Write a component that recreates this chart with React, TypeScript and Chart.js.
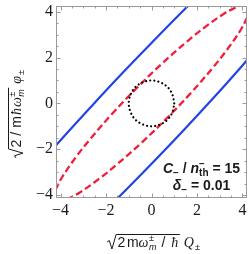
import React, { useEffect, useRef } from "react";
import { Chart, registerables } from "chart.js";

Chart.register(...registerables);

// ---------- axes ----------
const X_MIN = -4.2;
const X_MAX = 4.2;
const Y_MIN = -4.13;
const Y_MAX = 4.25;
const majorTicks = [-4, -2, 0, 2, 4];
const tickLabels = ["−4", "−2", "0", "2", "4"];

// ---------- curves ----------
const blueUpperX = [-5.35, -4.03, -2.69, -1.33, 0.06, 1.47, 2.91];
const blueUpperY = [-3.15, -1.64, -0.18, 1.27, 2.70, 4.12, 5.51];
const blueLowerX = [-2.91, -1.47, -0.06, 1.33, 2.69, 4.03, 5.35];
const blueLowerY = [-5.51, -4.12, -2.70, -1.26, 0.20, 1.69, 3.20];

const redX = [
  -4.24, -4.27, -4.15, -3.9, -3.32, -2.69, -1.7, -0.66, 0.42, 1.55, 2.34, 3.17, 3.63, 3.93, 4.24,
  4.27, 4.15, 3.9, 3.32, 2.69, 1.7, 0.66, -0.42, -1.55, -2.34, -3.17, -3.63, -3.93, -4.24,
];
const redY = [
  -4.24, -3.93, -3.63, -3.17, -2.34, -1.55, -0.42, 0.66, 1.7, 2.69, 3.32, 3.9, 4.15, 4.27, 4.24,
  3.93, 3.63, 3.17, 2.34, 1.55, 0.42, -0.66, -1.7, -2.69, -3.32, -3.9, -4.15, -4.27, -4.24,
];

const circleX = [1, 0.92, 0.71, 0.38, 0, -0.38, -0.71, -0.92, -1, -0.92, -0.71, -0.38, 0, 0.38, 0.71, 0.92, 1];
const circleY = [0, 0.38, 0.71, 0.92, 1, 0.92, 0.71, 0.38, 0, -0.38, -0.71, -0.92, -1, -0.92, -0.71, -0.38, 0];

// ---------- text ----------
const SANS = '"Liberation Sans", Arial, sans-serif';
const SERIF = '"Liberation Serif", "Times New Roman", serif';

type Piece = { s: string; f: string; dy?: number; adv?: boolean; gap?: number };

const xTitleInner: Piece[] = [
  { s: "2", f: `14px ${SANS}`, gap: 1.5 },
  { s: "m", f: `14px ${SANS}` },
  { s: "ω", f: `italic 14px ${SERIF}`, gap: 0.5 },
  { s: "±", f: `9px ${SANS}`, dy: -6, adv: false },
  { s: "m", f: `italic 9px ${SANS}`, dy: 3, gap: 5 },
  { s: "/", f: `14px ${SANS}`, gap: 6 },
  { s: "ħ", f: `italic 14px ${SERIF}` },
];
const xTitleOuter: Piece[] = [
  { s: "Q", f: `italic 14px ${SERIF}`, gap: 1 },
  { s: "±", f: `9px ${SANS}`, dy: 3 },
];
const yTitleInner: Piece[] = [
  { s: "2", f: `14px ${SANS}`, gap: 4 },
  { s: "/", f: `14px ${SANS}`, gap: 4 },
  { s: "m", f: `14px ${SANS}`, gap: 1 },
  { s: "ħ", f: `italic 14px ${SERIF}`, gap: 1 },
  { s: "ω", f: `italic 14px ${SERIF}`, gap: 0.5 },
  { s: "±", f: `9px ${SANS}`, dy: -6, adv: false },
  { s: "m", f: `italic 9px ${SANS}`, dy: 3 },
];
const yTitleOuter: Piece[] = [
  { s: "φ", f: `italic 14px ${SERIF}`, gap: 1 },
  { s: "±", f: `9px ${SANS}`, dy: 3 },
];
const noteLine1: Piece[] = [
  { s: "C", f: `bold italic 14px ${SANS}` },
  { s: "−", f: `bold 10px ${SANS}`, dy: 3 },
  { s: " / ", f: `bold 14px ${SANS}` },
  { s: "n", f: `bold italic 14px ${SANS}` },
  { s: "−", f: `bold 10px ${SANS}`, dy: -6, adv: false },
  { s: "th", f: `bold 10px ${SANS}`, dy: 3 },
  { s: " = 15", f: `bold 14px ${SANS}` },
];
const noteLine2: Piece[] = [
  { s: "δ", f: `bold italic 14px ${SANS}` },
  { s: "−", f: `bold 10px ${SANS}`, dy: 3 },
  { s: " = 0.01", f: `bold 14px ${SANS}` },
];

const BLUE = "#2343e6";
const RED = "#ee1e3c";
const FRAME = "#9a9a9a";
const INK = "#1a1a1a";

function pts(xs: number[], ys: number[]) {
  return xs.map((x, i) => ({ x, y: ys[i] }));
}

function measureRun(ctx: CanvasRenderingContext2D, ps: Piece[]) {
  let w = 0;
  for (const p of ps) {
    ctx.font = p.f;
    if (p.adv !== false) w += ctx.measureText(p.s).width;
    w += p.gap || 0;
  }
  return w;
}

function drawRun(ctx: CanvasRenderingContext2D, ps: Piece[], x: number, y: number) {
  let cx = x;
  for (const p of ps) {
    ctx.font = p.f;
    ctx.fillText(p.s, cx, y + (p.dy || 0));
    if (p.adv !== false) cx += ctx.measureText(p.s).width;
    cx += p.gap || 0;
  }
}

function drawRadicalTitle(
  ctx: CanvasRenderingContext2D,
  inner: Piece[],
  outer: Piece[],
  cx: number,
  base: number,
  overH: number
) {
  const wi = measureRun(ctx, inner);
  const wo = measureRun(ctx, outer);
  const R = 9;
  const padIn = 1.5;
  const padEnd = 1.5;
  const gap = 4;
  const total = R + padIn + wi + padEnd + gap + wo;
  const x0 = cx - total / 2;
  const over = base - overH;
  ctx.beginPath();
  ctx.moveTo(x0, base - 4.5);
  ctx.lineTo(x0 + 2.2, base - 6);
  ctx.lineTo(x0 + 4.8, base + 2.5);
  ctx.lineTo(x0 + R, over);
  ctx.lineTo(x0 + R + padIn + wi + padEnd, over);
  ctx.stroke();
  drawRun(ctx, inner, x0 + R + padIn, base);
  drawRun(ctx, outer, x0 + R + padIn + wi + padEnd + gap, base);
}

const framePlugin = {
  id: "mmaFrame",
  afterDraw(chart: any) {
    const { ctx, chartArea: a, scales } = chart;
    const xs = scales.x;
    const ys = scales.y;
    ctx.save();
    // frame
    ctx.strokeStyle = FRAME;
    ctx.lineWidth = 1;
    ctx.setLineDash([]);
    ctx.strokeRect(a.left + 0.5, a.top + 0.5, a.right - a.left - 1, a.bottom - a.top - 1);
    // inward ticks
    ctx.beginPath();
    for (let k = -8; k <= 8; k++) {
      const v = k * 0.5;
      const major = k % 4 === 0;
      const L = major ? 4.5 : 2.5;
      const px = Math.round(xs.getPixelForValue(v)) + 0.5;
      ctx.moveTo(px, a.bottom);
      ctx.lineTo(px, a.bottom - L);
      ctx.moveTo(px, a.top);
      ctx.lineTo(px, a.top + L);
      const py = Math.round(ys.getPixelForValue(v)) + 0.5;
      ctx.moveTo(a.left, py);
      ctx.lineTo(a.left + L, py);
      ctx.moveTo(a.right, py);
      ctx.lineTo(a.right - L, py);
    }
    ctx.stroke();

    // axis titles
    ctx.fillStyle = INK;
    ctx.strokeStyle = INK;
    ctx.lineWidth = 1;
    ctx.textBaseline = "alphabetic";
    ctx.textAlign = "left";
    drawRadicalTitle(ctx, xTitleInner, xTitleOuter, 153.5, 246.5, 12);

    ctx.save();
    ctx.translate(20.5, 114);
    ctx.rotate(-Math.PI / 2);
    drawRadicalTitle(ctx, yTitleInner, yTitleOuter, 0, 0, 12);
    ctx.restore();

    // annotation
    const w1 = measureRun(ctx, noteLine1);
    const w2 = measureRun(ctx, noteLine2);
    drawRun(ctx, noteLine1, 201.5 - w1 / 2, 173);
    drawRun(ctx, noteLine2, 201.5 - w2 / 2, 190);
    ctx.restore();
  },
};

export default function App() {
  const ref = useRef<HTMLCanvasElement | null>(null);

  useEffect(() => {
    document.body.style.margin = "0";
    const canvas = ref.current;
    if (!canvas) return;

    const tickFont = { family: SERIF, size: 16 };
    const labelFor = (v: any) => {
      const i = majorTicks.indexOf(Number(v));
      return i >= 0 ? tickLabels[i] : "";
    };

    const chart = new Chart(canvas, {
      type: "scatter",
      data: {
        datasets: [
          {
            data: pts(circleX, circleY),
            borderColor: "#000000",
            borderWidth: 2.2,
            borderDash: [0.01, 4.1],
            borderCapStyle: "round",
            showLine: true,
            pointRadius: 0,
            tension: 0.35,
            clip: 0,
          } as any,
          {
            data: pts(redX, redY),
            borderColor: RED,
            borderWidth: 2.3,
            borderDash: [7, 3.5],
            showLine: true,
            pointRadius: 0,
            tension: 0.4,
            clip: 0,
          } as any,
          {
            data: pts(blueUpperX, blueUpperY),
            borderColor: BLUE,
            borderWidth: 2.2,
            showLine: true,
            pointRadius: 0,
            tension: 0.4,
            clip: 0,
          } as any,
          {
            data: pts(blueLowerX, blueLowerY),
            borderColor: BLUE,
            borderWidth: 2.2,
            showLine: true,
            pointRadius: 0,
            tension: 0.4,
            clip: 0,
          } as any,
        ],
      },
      options: {
        animation: false,
        responsive: false,
        devicePixelRatio: 1,
        events: [],
        layout: { padding: { top: 6, right: 2, left: 0, bottom: 0 } },
        plugins: { legend: { display: false }, tooltip: { enabled: false } },
        scales: {
          x: {
            type: "linear",
            min: X_MIN,
            max: X_MAX,
            afterBuildTicks: (s: any) => {
              s.ticks = majorTicks.map((v) => ({ value: v }));
            },
            afterFit: (s: any) => {
              s.height = 56;
              s.paddingLeft = 0;
              s.paddingRight = 0;
              s.paddingTop = 0;
              s.paddingBottom = 0;
            },
            ticks: {
              callback: labelFor,
              font: tickFont,
              color: INK,
              padding: 3,
              maxRotation: 0,
              autoSkip: false,
            },
            grid: { display: false, drawTicks: false },
            border: { display: false },
          },
          y: {
            type: "linear",
            min: Y_MIN,
            max: Y_MAX,
            afterBuildTicks: (s: any) => {
              s.ticks = majorTicks.map((v) => ({ value: v }));
            },
            afterFit: (s: any) => {
              s.width = 56;
              s.paddingLeft = 0;
              s.paddingRight = 0;
              s.paddingTop = 0;
              s.paddingBottom = 0;
            },
            ticks: {
              callback: labelFor,
              font: tickFont,
              color: INK,
              padding: 3,
              autoSkip: false,
            },
            grid: { display: false, drawTicks: false },
            border: { display: false },
          },
        },
      } as any,
      plugins: [framePlugin],
    });

    return () => chart.destroy();
  }, []);

  return (
    <div style={{ width: 249, height: 254 }}>
      <canvas ref={ref} width={249} height={254} style={{ display: "block" }} />
    </div>
  );
}
